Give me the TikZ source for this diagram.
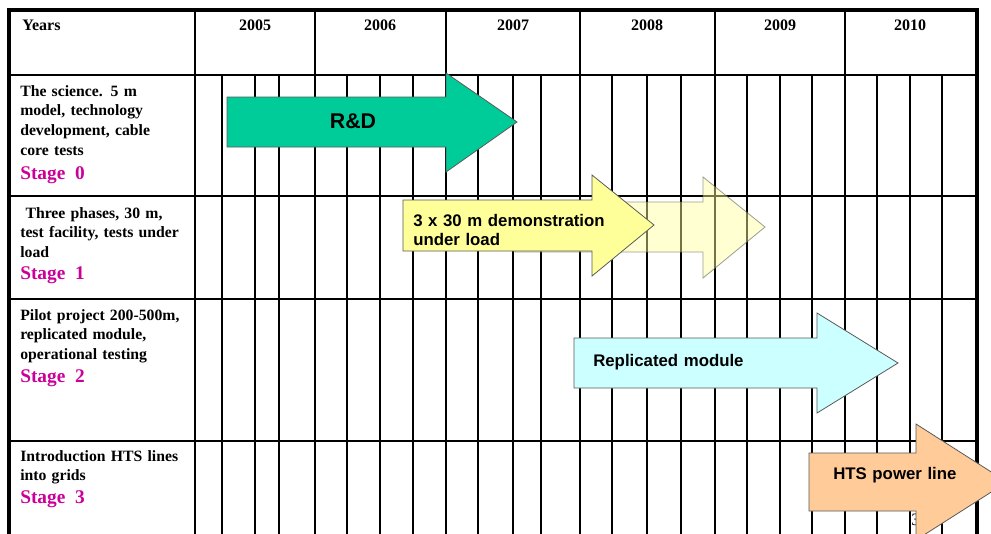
\documentclass[tikz,border=0pt]{standalone}
\usepackage{fontspec}
\setmainfont{Liberation Serif}
\newfontfamily\arialfont{Liberation Sans}
\definecolor{rdgreen}{RGB}{0,204,153}
\definecolor{demoyellow}{RGB}{255,255,153}
\definecolor{modcyan}{RGB}{204,255,255}
\definecolor{htspeach}{RGB}{255,204,153}
\definecolor{stagemag}{RGB}{204,0,153}
\definecolor{arrowedge}{RGB}{90,90,90}
\tikzset{
  gridline/.style={line width=1.2pt, black},
  rowline/.style={line width=2.1pt, black},
  border/.style={line width=2.3pt, black},
  arrowshape/.style={draw=arrowedge, line width=0.6pt},
  rowtext/.style={anchor=base west, inner sep=0pt, text width=135pt, align=left,
    font=\bfseries\fontsize{11.8}{14.8}\selectfont},
  stagetext/.style={anchor=base west, inner sep=0pt, text=stagemag,
    font=\bfseries\fontsize{14.5}{16}\selectfont},
  yeartext/.style={anchor=base, inner sep=0pt, font=\bfseries\fontsize{12}{14}\selectfont},
  arrowtext/.style={anchor=base west, inner sep=0pt, text width=170pt, align=left,
    font=\arialfont\bfseries\fontsize{12.6}{14.4}\selectfont},
}
\begin{document}
\begin{tikzpicture}[x=0.75pt,y=-0.75pt]
\useasboundingbox (0,0) rectangle (991,533);
\clip (0,0) rectangle (991,533);
\fill[white] (0,0) rectangle (991,533);
% sub-column lines in the stage rows
\foreach \x in {195,222,255,279,315,347,380,413,446,478,513,541,580,612,647,681,715,747,780,812,845,877,910,942}
  \draw[gridline] (\x,75) -- (\x,545);
% header year dividers
\foreach \x in {195,315,446,580,715,845}
  \draw[gridline] (\x,10) -- (\x,75);
% row separators
\foreach \y in {75,196,299,441}
  \draw[rowline] (9,\y) -- (977,\y);
% outer border
\draw[border] (9,545) -- (9,10) -- (977,10) -- (977,545);

% header texts
\node[anchor=base west, inner sep=0pt, font=\bfseries\fontsize{12}{14}\selectfont] (years) at (22,30) {Years};
\node[yeartext] (y2005) at (255,30) {2005};
\node[yeartext] (y2006) at (380,30) {2006};
\node[yeartext] (y2007) at (513,30) {2007};
\node[yeartext] (y2008) at (647,30) {2008};
\node[yeartext] (y2009) at (780,30) {2009};
\node[yeartext] (y2010) at (910,30) {2010};

% stage descriptions
\node[rowtext] (desc0) at (20,96) {The science. 5 m\\model, technology\\development, cable\\core tests};
\node[stagetext] (stage0) at (20,179) {Stage~~0};
\node[rowtext] (desc1) at (20,218) {\ Three phases, 30 m,\\test facility, tests under\\load};
\node[stagetext] (stage1) at (20,279) {Stage~~1};
\node[rowtext] (desc2) at (20,320) {Pilot project 200-500m,\\replicated module,\\operational testing};
\node[stagetext] (stage2) at (20,382) {Stage~~2};
\node[rowtext] (desc3) at (20,461) {Introduction HTS lines\\into grids};
\node[stagetext] (stage3) at (20,503) {Stage~~3};

% page number (partly hidden under the last arrow)
\node[anchor=base west, inner sep=0pt, font=\fontsize{13}{14}\selectfont] (pagenum) at (911,525) {3};

% arrows
\draw[arrowshape, fill=rdgreen] (227,97) -- (446,97) -- (446,73) -- (517,122) -- (446,172) -- (446,147) -- (227,147) -- cycle;
\node[anchor=base, inner sep=0pt, font=\arialfont\bfseries\fontsize{16}{18}\selectfont] (rd) at (353,128) {R\&D};

\draw[arrowshape, fill=demoyellow, fill opacity=0.45, draw opacity=0.6] (515,202) -- (703,202) -- (703,177) -- (765,227) -- (703,278) -- (703,252) -- (515,252) -- cycle;
\draw[arrowshape, fill=demoyellow] (403,200) -- (592,200) -- (592,175) -- (654,225) -- (592,276) -- (592,251) -- (403,251) -- cycle;
\node[arrowtext] (demo) at (413,226) {3 x 30 m demonstration\\under load};

\draw[arrowshape, fill=modcyan] (574,338) -- (817,338) -- (817,313) -- (898,363) -- (817,413) -- (817,388) -- (574,388) -- cycle;
\node[arrowtext] (module) at (593,366) {Replicated module};

\draw[arrowshape, fill=htspeach] (809,453) -- (916,453) -- (916,424) -- (1007,482) -- (916,540) -- (916,511) -- (809,511) -- cycle;
\node[arrowtext] (hts) at (833,479) {HTS power line};
\end{tikzpicture}
\end{document}
